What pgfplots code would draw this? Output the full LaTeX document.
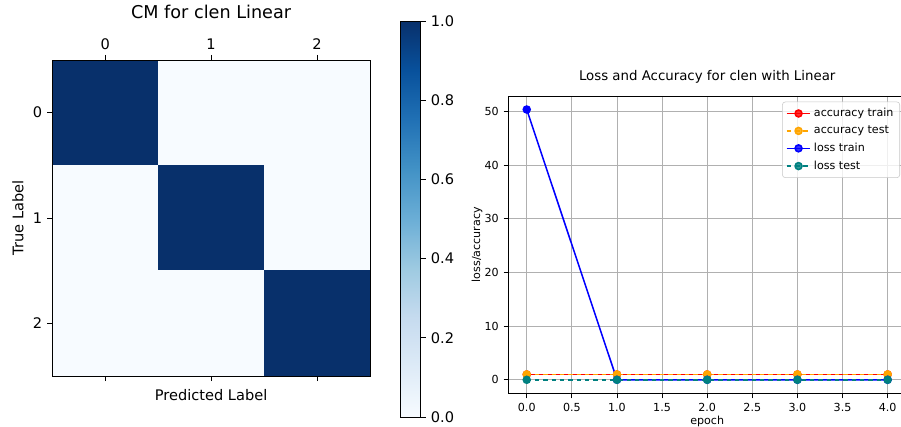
\documentclass[border=0pt]{standalone}
\usepackage{pgfplots}
\pgfplotsset{compat=1.18}
\usepackage{fontspec}
\setmainfont{DejaVu Sans}
\definecolor{mplorange}{RGB}{255,165,0}
\definecolor{mplteal}{RGB}{0,128,128}
\definecolor{gridgray}{RGB}{176,176,176}
\pgfplotsset{colormap={Blues}{rgb255=(247,251,255) rgb255=(222,235,247) rgb255=(198,219,239) rgb255=(158,202,225) rgb255=(107,174,214) rgb255=(66,146,198) rgb255=(33,113,181) rgb255=(8,81,156) rgb255=(8,48,107)}}
\begin{document}
\begin{tikzpicture}
\useasboundingbox (0,0) rectangle (648.72pt,307.44pt);
% ---------------- confusion matrix ----------------
\begin{axis}[
  at={(37.66pt,36.72pt)}, anchor=south west,
  scale only axis, width=228.7pt, height=227.5pt,
  xmin=-0.5, xmax=2.5, ymin=-0.5, ymax=2.5, y dir=reverse,
  enlargelimits=false, axis on top,
  axis line style={black, line width=0.6pt},
  xtick={0,1,2}, ytick={0,1,2},
  xticklabel pos=upper, xtick pos=both, ytick pos=left,
  tick align=outside, major tick length=3.7pt,
  every tick/.style={black, line width=0.6pt},
  ticklabel style={font=\fontsize{10.5}{12}\selectfont},
  /pgf/number format/assume math mode=true,
  title={CM for clen Linear},
  title style={font=\fontsize{12.7}{15}\selectfont, at={(axis description cs:0.5,1.1266)}, anchor=center},
  xlabel={Predicted Label},
  xlabel style={font=\fontsize{10.5}{12}\selectfont, at={(axis description cs:0.5,-0.060)}, anchor=center},
  ylabel={True Label},
  ylabel style={font=\fontsize{10.5}{12}\selectfont, at={(axis description cs:-0.108,0.5)}, anchor=center},
  colormap name=Blues, point meta min=0, point meta max=1,
  colorbar,
  colorbar style={
    at={(parent axis.south east)}, anchor=south west, xshift=13.68pt, yshift=-29.52pt,
    scale only axis, width=14.4pt, height=285.12pt,
    ytick={0,0.2,0.4,0.6,0.8,1.0},
    ytick pos=right, yticklabel pos=right,
    yticklabel style={font=\fontsize{10.5}{12}\selectfont, /pgf/number format/.cd, fixed, fixed zerofill, precision=1, assume math mode=true},
    tick align=outside, major tick length=3.7pt,
    every tick/.style={black, line width=0.6pt},
    axis line style={black, line width=0.6pt},
  },
]
\addplot[matrix plot*, mesh/cols=3, point meta=explicit] coordinates {
  (0,0) [1] (1,0) [0] (2,0) [0]
  (0,1) [0] (1,1) [1] (2,1) [0]
  (0,2) [0] (1,2) [0] (2,2) [1]
};
\end{axis}
% ---------------- loss / accuracy ----------------
\begin{axis}[
  at={(366.26pt,24.26pt)}, anchor=south west,
  scale only axis, width=285.84pt, height=214.06pt,
  xmin=-0.2, xmax=4.2, ymin=-2.52, ymax=52.92,
  xtick={0,0.5,1,1.5,2,2.5,3,3.5,4}, ytick={0,10,20,30,40,50},
  xticklabel style={/pgf/number format/.cd, fixed, fixed zerofill, precision=1},
  /pgf/number format/assume math mode=true,
  grid=major, grid style={color=gridgray, line width=0.6pt},
  axis line style={black, line width=0.6pt},
  tick align=outside, major tick length=3.7pt, xtick pos=left, ytick pos=left,
  every tick/.style={black, line width=0.6pt},
  ticklabel style={font=\fontsize{8}{9.6}\selectfont},
  title={Loss and Accuracy for clen with Linear},
  title style={font=\fontsize{9.6}{11.5}\selectfont, at={(axis description cs:0.5,1.037)}, anchor=center},
  xlabel={epoch},
  xlabel style={font=\fontsize{8}{9.6}\selectfont, at={(axis description cs:0.5,-0.096)}, anchor=center},
  ylabel={loss/accuracy},
  ylabel style={font=\fontsize{8}{9.6}\selectfont, at={(axis description cs:-0.080,0.5)}, anchor=center},
  legend style={at={(1,1)}, anchor=north east, xshift=-4.1pt, yshift=-4.1pt,
    font=\fontsize{8}{9.6}\selectfont, draw=gridgray!70, rounded corners=2pt,
    fill=white, fill opacity=0.8, text opacity=1, row sep=1.2pt, inner sep=2.5pt},
  legend cell align=left,
]
\addplot[red, line width=1.1pt, mark=*, mark size=2.5pt, mark options={solid}]
  coordinates {(0,1.0)(1,1.0)(2,1.0)(3,1.0)(4,1.0)};
\addlegendentry{accuracy train}
\addplot[mplorange, dashed, line width=1.1pt, mark=*, mark size=2.5pt, mark options={solid}]
  coordinates {(0,1.0)(1,1.0)(2,1.0)(3,1.0)(4,1.0)};
\addlegendentry{accuracy test}
\addplot[blue, line width=1.1pt, mark=*, mark size=2.5pt, mark options={solid}]
  coordinates {(0,50.4)(1,0.0)(2,0.0)(3,0.0)(4,0.0)};
\addlegendentry{loss train}
\addplot[mplteal, dashed, line width=1.1pt, mark=*, mark size=2.5pt, mark options={solid}]
  coordinates {(0,0.0)(1,0.0)(2,0.0)(3,0.0)(4,0.0)};
\addlegendentry{loss test}
\end{axis}
\end{tikzpicture}
\end{document}
